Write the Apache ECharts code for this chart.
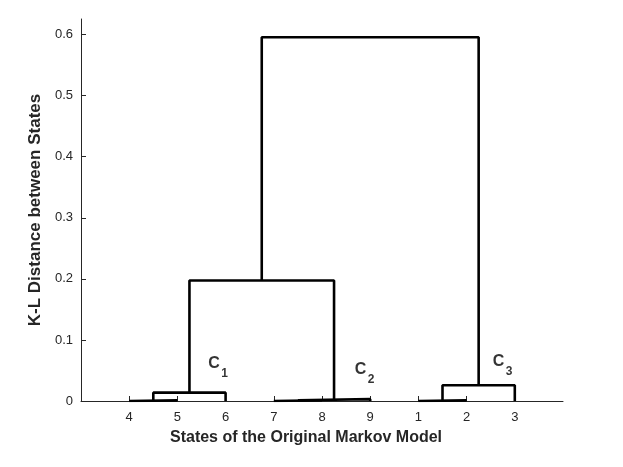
<!DOCTYPE html>
<html>
<head>
<meta charset="utf-8">
<script src="https://cdn.jsdelivr.net/npm/echarts@6/dist/echarts.min.js"></script>
<style>
  html, body { margin: 0; padding: 0; background: #fff; }
  #chart { width: 623px; height: 467px; }
</style>
</head>
<body>
<div id="chart"></div>
<script>
// leaf order along the x axis (states of the original model)
const leafOrder = [4, 5, 6, 7, 8, 9, 1, 2, 3]
// linkage rows: [node A, node B, merge height]; new nodes are numbered 10, 11, ...
const links = [
  [4, 5, 0.001],
  [1, 2, 0.001],
  [7, 8, 0.0012],
  [12, 9, 0.003],
  [10, 6, 0.0137],
  [11, 3, 0.0257],
  [14, 13, 0.1973],
  [16, 15, 0.5957]
]
const yTicks = [0, 0.1, 0.2, 0.3, 0.4, 0.5, 0.6]
// cluster annotations (data coordinates of the letter)
const clusterIds = ['1', '2', '3']
const clusterX = [2.64, 5.68, 8.54]
const clusterY = [0.061, 0.051, 0.065]

const fontFamily = '"Liberation Sans", Arial, Helvetica, sans-serif'
const nLeaves = leafOrder.length

// x position and height of every node
const nodeX = {}
const nodeH = {}
leafOrder.forEach((s, i) => { nodeX[s] = i + 1; nodeH[s] = 0 })
const linkSeries = links.map((l, i) => {
  const id = nLeaves + 1 + i
  const [a, b, h] = l
  nodeX[id] = (nodeX[a] + nodeX[b]) / 2
  nodeH[id] = h
  return {
    type: 'line',
    data: [[nodeX[a], nodeH[a]], [nodeX[a], h], [nodeX[b], h], [nodeX[b], nodeH[b]]],
    symbol: 'none',
    lineStyle: { color: '#000', width: 2.6 },
    z: 3,
    silent: true
  }
})

const chart = echarts.init(document.getElementById('chart'))
chart.setOption({
  animation: false,
  grid: { left: 81, right: 60, top: 19, bottom: 66, containLabel: false },
  xAxis: {
    type: 'value',
    min: 0,
    max: nLeaves + 1,
    interval: 1,
    name: 'States of the Original Markov Model',
    nameLocation: 'middle',
    nameGap: 29,
    nameTextStyle: { fontSize: 16, fontWeight: 'bold', color: '#262626', fontFamily, padding: [0, 32, 0, 0] },
    splitLine: { show: false },
    axisLine: { lineStyle: { color: '#262626', width: 1 } },
    axisTick: { inside: true, length: 5, customValues: leafOrder.map((s, i) => i + 1), lineStyle: { color: '#262626' } },
    axisLabel: {
      customValues: leafOrder.map((s, i) => i + 1),
      formatter: v => String(leafOrder[v - 1]),
      fontSize: 13, color: '#262626', fontFamily, margin: 10
    }
  },
  yAxis: {
    type: 'value',
    min: 0,
    max: 0.6255,
    name: 'K-L Distance between States',
    nameLocation: 'middle',
    nameGap: 36,
    nameTextStyle: { fontSize: 17, fontWeight: 'bold', color: '#262626', fontFamily },
    splitLine: { show: false },
    axisLine: { show: true, lineStyle: { color: '#262626', width: 1 } },
    axisTick: { show: true, inside: true, length: 5, customValues: yTicks, lineStyle: { color: '#262626' } },
    axisLabel: {
      customValues: yTicks,
      formatter: v => String(Math.round(v * 10) / 10),
      fontSize: 13, color: '#262626', fontFamily, margin: 8
    }
  },
  series: linkSeries.concat([
    {
      type: 'scatter',
      symbolSize: 0,
      data: clusterX.map((x, i) => [x, clusterY[i]]),
      label: {
        show: true, position: 'right', distance: 0,
        formatter: 'C', fontSize: 16, fontWeight: 'bold', color: '#000', fontFamily
      },
      silent: true
    },
    {
      type: 'scatter',
      symbolSize: 0,
      data: clusterX.map((x, i) => [x, clusterY[i], clusterIds[i]]),
      label: {
        show: true, position: 'right', distance: 0, offset: [13, 10],
        formatter: p => p.value[2], fontSize: 12, fontWeight: 'bold', color: '#000', fontFamily
      },
      silent: true
    }
  ])
})
</script>
</body>
</html>
